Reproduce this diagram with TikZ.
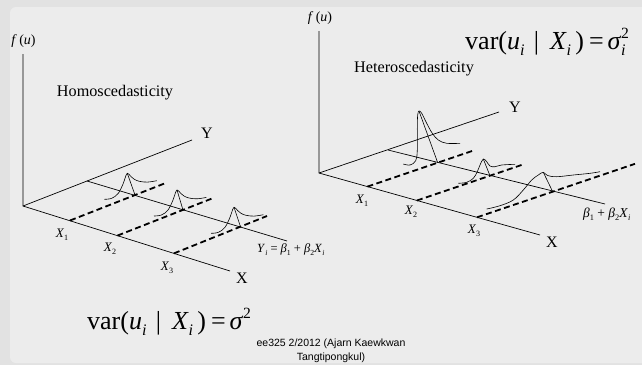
\documentclass[tikz,border=0pt]{standalone}
\usepackage{fontspec}
\setmainfont{Liberation Serif}
\newfontfamily\arial{Liberation Sans}
\usepackage{graphicx}
\usepackage{tikz}
\usetikzlibrary{positioning,calc}
\definecolor{slide}{HTML}{ECECEC}
\definecolor{rim}{HTML}{E2E2E2}
\newcommand{\lo}[1]{\raisebox{-0.26em}{\scalebox{0.62}{#1}}}
\newcommand{\hi}[1]{\raisebox{0.42em}{\scalebox{0.6}{#1}}}
\newcommand{\fu}{\textit{f}\,(\textit{u})}
\newcommand{\vx}{var(\textit{u}\lo{\textit{i}}\hspace{0.36em}|\hspace{0.42em}\textit{X}\lo{\textit{i}}\hspace{0.16em})\hspace{0.2em}=\hspace{0.14em}}
\tikzset{
  ax/.style={line width=0.7pt},
  dsh/.style={line width=1.8pt, dash pattern=on 6pt off 3.5pt},
  crv/.style={line width=0.6pt},
  fl/.style={inner sep=0pt, font=\fontsize{14}{16}\selectfont},
  tt/.style={inner sep=0pt, font=\fontsize{16.2}{18}\selectfont},
  axl/.style={inner sep=0pt, font=\fontsize{16}{18}\selectfont},
  xs/.style={inner sep=0pt, font=\fontsize{13}{15}\selectfont},
  rl/.style={inner sep=0pt, anchor=base west},
  eq/.style={inner sep=0pt, anchor=base west, font=\fontsize{26}{30}\selectfont},
  foot/.style={inner sep=0pt, align=center, font=\arial\fontsize{10.5}{14}\selectfont}
}
\begin{document}
\begin{tikzpicture}[x=1pt,y=-1pt]
\useasboundingbox (0,0) rectangle (642,365);
\fill[rim] (0,0) rectangle (642,365);
\fill[slide] (642,7) [rounded corners=6pt] -- (10,7) -- (10,363) [sharp corners] -- (642,363) -- cycle;

% homoscedasticity
\coordinate (o1) at (23,206);
\coordinate (ft1) at (23,54);
\coordinate (yt1) at (192,140);
\coordinate (xt1) at (230,271);
\coordinate (ra1) at (87,181);
\coordinate (rb1) at (287,241);
\draw[ax] (ft1) -- (o1) -- (xt1);
\draw[ax] (o1) -- (yt1);
\draw[ax] (ra1) -- (rb1);
\foreach \s/\e in {{70,220.5}/{167,182.5}, {117.4,235.6}/{212,198.5}, {173.9,253.4}/{267,216}}
  \draw[dsh] (\s) -- (\e);
\foreach \p/\q in {{127.3,173.3}/{135,195}, {177,190}/{183,210}, {234,207.3}/{240.7,227.3}} {
  \draw[crv, shift={(\p)}] plot[smooth, tension=0.6] coordinates {(-23,26) (-15.6,25) (-9,20) (-4,10) (-1.3,2) (0,0) (1.6,0.9) (4,3.6) (7,6) (12,8) (20,8.8) (29.4,7.4)};
  \draw[crv] (\p) -- (\q);
}
\node[fl] (fu1) at (23.5,41) {\fu};
\node[tt] (hom) at (115,93) {Homoscedasticity};
\node[axl] (yl1) at (207,133) {Y};
\node[axl] (xl1) at (242,278) {X};
\node[xs] (x11) at (62,235) {\textit{X}\lo{1}};
\node[xs] (x12) at (110,249) {\textit{X}\lo{2}};
\node[xs] (x13) at (167,268) {\textit{X}\lo{3}};
\node[rl, font=\fontsize{12.5}{14}\selectfont] (rg1) at (257,252) {\textit{Y}\lo{\textit{i}} = \textit{β}\lo{1} + \textit{β}\lo{2}\textit{X}\lo{\textit{i}}};
\node[eq] (vr1) at (87,329) {\vx\textit{σ}\hi{2}};

% heteroscedasticity
\coordinate (o2) at (319,173);
\coordinate (ft2) at (319,31);
\coordinate (yt2) at (499,112);
\coordinate (xt2) at (540,235);
\coordinate (ra2) at (388,150);
\coordinate (rb2) at (605,204);
\draw[ax] (ft2) -- (o2) -- (xt2);
\draw[ax] (o2) -- (yt2);
\draw[ax] (ra2) -- (rb2);
\foreach \s/\e in {{367.4,186.6}/{475,150}, {416.9,200.5}/{523,164.5}, {477,217.3}/{635,163.8}}
  \draw[dsh] (\s) -- (\e);
\draw[crv] plot[smooth, tension=0.6] coordinates {(403.3,164) (410,165) (415.7,160.7) (417.3,150) (417.3,126.7) (417.7,115) (419,111) (421.7,113.3) (426.7,123.3) (432.3,133.3) (438.3,140) (446.7,143.3) (460,143.3)};
\draw[crv] (419,111) -- (437.7,162.7);
\draw[crv] plot[smooth, tension=0.6] coordinates {(458.3,183.3) (466.7,182.3) (473.3,178.3) (477.3,171.7) (480,165) (483.3,159) (486.7,161.7) (490,166) (495,166.7) (501.7,165) (515,164.3)};
\draw[crv] (483.3,159) -- (490,175.7);
\draw[crv] plot[smooth, tension=0.6] coordinates {(486.7,209) (500,205.7) (513.3,200) (523.3,190) (531.7,180) (538.3,175) (543.3,172.3) (547.5,175.5) (556.7,176.7) (573.3,175) (590,173.3) (600,171.7)};
\draw[crv] (543.3,172.3) -- (552.7,191.7);
\node[fl] (fu2) at (320,18) {\fu};
\node[tt] (het) at (414,69) {Heteroscedasticity};
\node[axl] (yl2) at (515,107) {Y};
\node[axl] (xl2) at (552,242) {X};
\node[xs] (x21) at (362,201) {\textit{X}\lo{1}};
\node[xs] (x22) at (411,212) {\textit{X}\lo{2}};
\node[xs] (x23) at (474,231) {\textit{X}\lo{3}};
\node[rl, font=\fontsize{13.5}{15}\selectfont] (rg2) at (583,217) {\textit{β}\lo{1} + \textit{β}\lo{2}\textit{X}\lo{\textit{i}}};
\node[eq] (vr2) at (465,49) {\vx\textit{σ}\rlap{\hi{2}}\lo{\textit{i}}};

\node[foot] (src) at (331,351) {ee325 2/2012 (Ajarn Kaewkwan\\Tangtipongkul)};
\end{tikzpicture}
\end{document}
